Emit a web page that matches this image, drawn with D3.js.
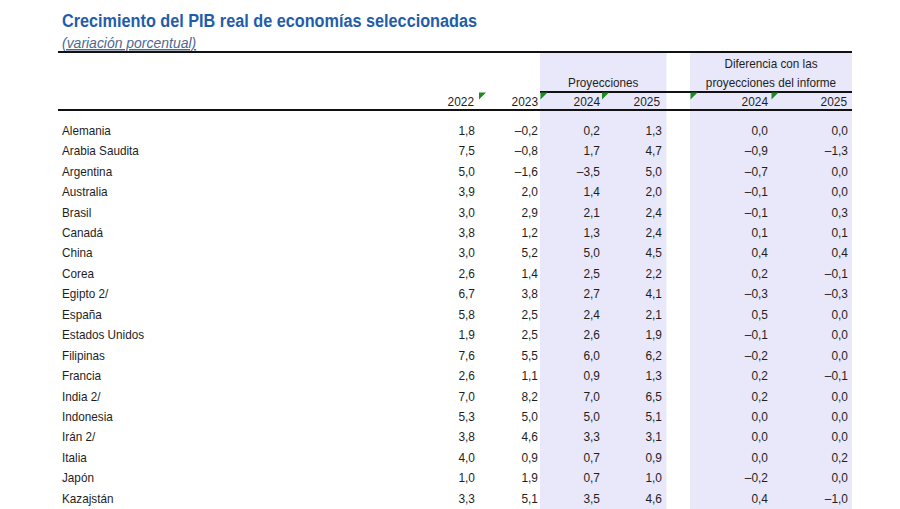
<!DOCTYPE html>
<html>
<head>
<meta charset="utf-8">
<script src="https://cdn.jsdelivr.net/npm/d3@7/dist/d3.min.js"></script>
<style>
  html, body { margin: 0; padding: 0; background: #fff; }
  svg { display: block; font-family: "Liberation Sans", Arial, sans-serif; }
</style>
</head>
<body>
<svg id="chart" width="900" height="509"></svg>
<script>
// ---- Data ----
const title = "Crecimiento del PIB real de economías seleccionadas";
const subtitle = "(variación porcentual)";
const countries = ["Alemania","Arabia Saudita","Argentina","Australia","Brasil","Canadá","China","Corea","Egipto 2/","España","Estados Unidos","Filipinas","Francia","India 2/","Indonesia","Irán 2/","Italia","Japón","Kazajstán"];
const v2022 = [1.8,7.5,5.0,3.9,3.0,3.8,3.0,2.6,6.7,5.8,1.9,7.6,2.6,7.0,5.3,3.8,4.0,1.0,3.3];
const v2023 = [-0.2,-0.8,-1.6,2.0,2.9,1.2,5.2,1.4,3.8,2.5,2.5,5.5,1.1,8.2,5.0,4.6,0.9,1.9,5.1];
const proj2024 = [0.2,1.7,-3.5,1.4,2.1,1.3,5.0,2.5,2.7,2.4,2.6,6.0,0.9,7.0,5.0,3.3,0.7,0.7,3.5];
const proj2025 = [1.3,4.7,5.0,2.0,2.4,2.4,4.5,2.2,4.1,2.1,1.9,6.2,1.3,6.5,5.1,3.1,0.9,1.0,4.6];
const diff2024 = [0.0,-0.9,-0.7,-0.1,-0.1,0.1,0.4,0.2,-0.3,0.5,-0.1,-0.2,0.2,0.2,0.0,0.0,0.0,-0.2,0.4];
const diff2025 = [0.0,-1.3,0.0,0.0,0.3,0.1,0.4,-0.1,-0.3,0.0,0.0,0.0,-0.1,0.0,0.0,0.0,0.2,0.0,-1.0];
const columnLabels = ["2022","2023","2024","2025","2024","2025"];
const groupLabels = [["Proyecciones"], ["Diferencia con las","proyecciones del informe"]];

// ---- Layout ----
const svg = d3.select("#chart");
const series = [v2022, v2023, proj2024, proj2025, diff2024, diff2025];
const colKeys = d3.range(series.length);
const colRight = d3.scaleOrdinal().domain(colKeys).range([475, 538, 600, 662, 768, 848]);
const headRight = d3.scaleOrdinal().domain(colKeys).range([474, 538, 600, 660, 768, 847]);
const y = d3.scalePoint().domain(countries).range([134.8, 502.8]);
const fmt = d3.formatLocale({decimal: ",", thousands: ".", grouping: [3], currency: ["", "€"], minus: "\u2013"}).format(".1f");
const textColor = "#1e1e1e";
const FS = 13;          // body font size (taller)
const SQUEEZE = 0.915;  // horizontal condensing of the body font

// condense a text selection horizontally keeping its anchor
function condense(sel, k) {
  sel.each(function() {
    const w = this.getComputedTextLength();
    if (w > 0) {
      d3.select(this).attr("textLength", w * k).attr("lengthAdjust", "spacingAndGlyphs");
    }
  });
}

// Shaded bands
const bands = [{x0: 540, x1: 666.5}, {x0: 690, x1: 852}];
svg.selectAll("rect.band").data(bands).join("rect")
  .attr("class", "band")
  .attr("x", d => d.x0).attr("y", 53)
  .attr("width", d => d.x1 - d.x0).attr("height", 509 - 53)
  .attr("fill", "#e8e8fa");

// Title
const t = svg.append("text").attr("x", 62).attr("y", 27.3)
  .attr("fill", "#1f5dab").attr("font-weight", "bold").attr("font-size", 17.5)
  .text(title);
t.attr("textLength", 415).attr("lengthAdjust", "spacingAndGlyphs");

svg.append("text").attr("x", 62).attr("y", 48)
  .attr("fill", "#50688f").attr("font-style", "italic").attr("font-size", 15)
  .attr("text-decoration", "underline")
  .text(subtitle)
  .call(condense, 0.93);

// Rules
svg.append("line").attr("x1", 58).attr("x2", 852).attr("y1", 52).attr("y2", 52)
  .attr("stroke", "#111").attr("stroke-width", 2);
svg.append("line").attr("x1", 540).attr("x2", 852).attr("y1", 92).attr("y2", 92)
  .attr("stroke", "#111").attr("stroke-width", 2);
svg.append("line").attr("x1", 58).attr("x2", 852).attr("y1", 110).attr("y2", 110)
  .attr("stroke", "#111").attr("stroke-width", 2);

// Group header labels
const groupCenters = [(bands[0].x0 + bands[0].x1) / 2, (bands[1].x0 + bands[1].x1) / 2];
groupLabels.forEach((lines, gi) => {
  lines.forEach((ln, li) => {
    svg.append("text")
      .attr("x", groupCenters[gi])
      .attr("y", 86.5 - (lines.length - 1 - li) * 19)
      .attr("text-anchor", "middle").attr("font-size", FS).attr("fill", textColor)
      .text(ln)
      .call(condense, SQUEEZE * 0.985);
  });
});

// Column headers
svg.selectAll("text.colhead").data(columnLabels).join("text")
  .attr("class", "colhead")
  .attr("x", (d, i) => headRight(i)).attr("y", 105.5)
  .attr("text-anchor", "end").attr("font-size", FS).attr("fill", textColor)
  .text(d => d)
  .call(condense, SQUEEZE);

// Comment markers (green triangles)
const markerX = [479, 540.5, 602, 690.5, 771.5];
svg.selectAll("path.marker").data(markerX).join("path")
  .attr("class", "marker")
  .attr("d", d => `M${d},92.5 L${d + 7},92.5 L${d},99.5 Z`)
  .attr("fill", "#1f8a1f");

// Row labels
svg.selectAll("text.rowlab").data(countries).join("text")
  .attr("class", "rowlab")
  .attr("x", 62).attr("y", d => y(d))
  .attr("font-size", FS).attr("fill", textColor)
  .text(d => d)
  .call(condense, SQUEEZE * 0.985);

// Values
colKeys.forEach(ci => {
  svg.selectAll(`text.val${ci}`).data(series[ci]).join("text")
    .attr("class", `val${ci}`)
    .attr("x", colRight(ci))
    .attr("y", (d, i) => y(countries[i]))
    .attr("text-anchor", "end").attr("font-size", FS).attr("fill", textColor)
    .text(d => fmt(d))
    .call(condense, SQUEEZE);
});
</script>
</body>
</html>
